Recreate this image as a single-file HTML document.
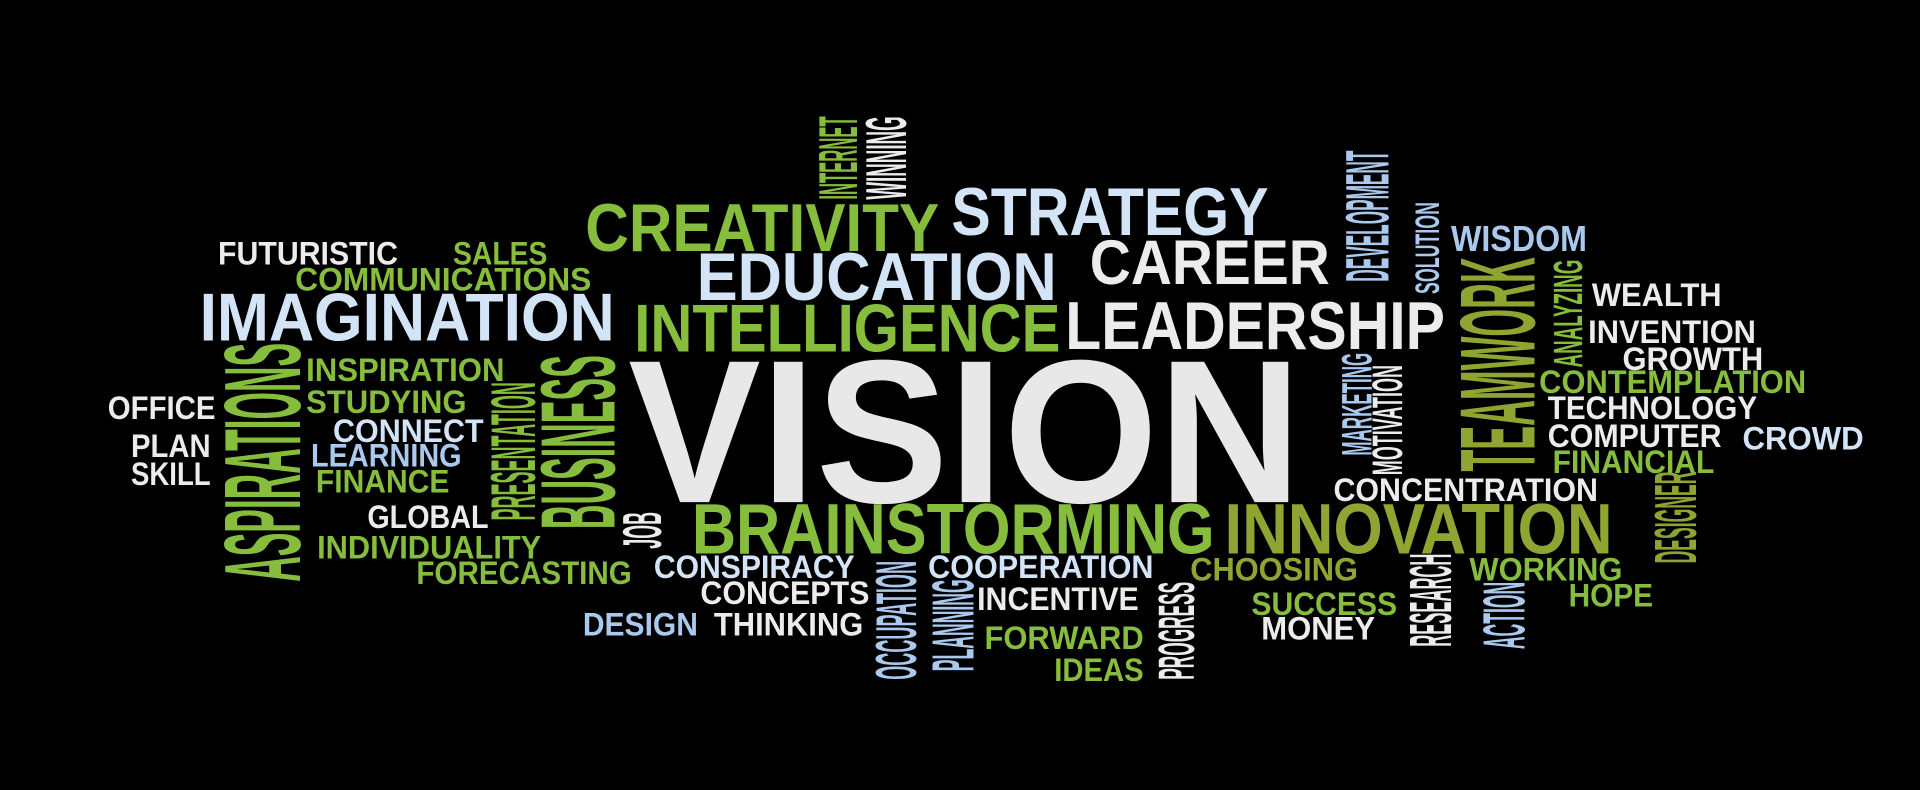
<!DOCTYPE html>
<html><head><meta charset="utf-8"><style>
html,body{margin:0;padding:0;background:#000;width:1920px;height:790px;overflow:hidden}
svg{display:block}
text{font-family:"Liberation Sans Narrow","Liberation Sans",sans-serif;font-weight:bold}
</style></head><body>
<svg id="cloud" width="1920" height="790" viewBox="0 0 1568 645" preserveAspectRatio="none"></svg>
<script>
const W='#ececec',B='#d4e4f7',LB='#a9c9ee',G='#86bd3c',O='#8fa531';
// [text, x1, y1, x2, y2, color, vertical]
const words=[
['FUTURISTIC',178,197,325,216,W,0],['SALES',370,197,447,216,G,0],['COMMUNICATIONS',241,218,483,237,G,0],
['IMAGINATION',163,238,502,278,B,0],['CREATIVITY',478,165,767,205,G,0],['STRATEGY',777,152,1036,192,B,0],
['EDUCATION',569,205,863,245,B,0],['CAREER',890,195,1086,232,W,0],['WISDOM',1185,184,1296,205,LB,0],
['INTELLIGENCE',518,247,866,287,G,0],['LEADERSHIP',870,245,1180,285,W,0],['WEALTH',1300,231,1406,250,W,0],
['INVENTION',1297,261,1434,280,W,0],['GROWTH',1325,283,1440,302,W,0],['CONTEMPLATION',1257,302,1475,321,G,0],
['TECHNOLOGY',1264,323,1435,342,W,0],['COMPUTER',1264,346,1406,365,W,0],['CROWD',1423,348,1522,367,B,0],
['FINANCIAL',1268,367,1400,386,G,0],['INSPIRATION',250,292,412,311,G,0],['STUDYING',250,318,381,337,G,0],
['OFFICE',88,323,176,342,W,0],['CONNECT',272,342,395,361,B,0],['PLAN',107,354,172,373,W,0],
['LEARNING',254,362,377,381,LB,0],['SKILL',107,377,172,396,W,0],['FINANCE',258,383,367,402,G,0],
['GLOBAL',300,412,399,431,W,0],['INDIVIDUALITY',259,437,442,456,G,0],['FORECASTING',340,458,516,477,G,0],
['VISION',513,290,1063,410,'#e8e8e8',0],['CONCENTRATION',1089,390,1305,409,W,0],
['BRAINSTORMING',565,410,992,452,G,0],['INNOVATION',1000,410,1317,452,O,0],
['CONSPIRACY',534,453,698,472,B,0],['COOPERATION',758,453,942,472,B,0],['CHOOSING',972,455,1109,474,O,0],
['WORKING',1200,455,1325,474,G,0],['CONCEPTS',572,474,710,493,W,0],['INCENTIVE',798,479,930,498,W,0],
['SUCCESS',1022,483,1141,502,G,0],['HOPE',1281,476,1350,495,G,0],['DESIGN',476,500,570,519,LB,0],
['THINKING',583,500,705,519,W,0],['FORWARD',804,511,934,530,G,0],['MONEY',1030,503,1123,522,W,0],
['IDEAS',861,537,934,556,G,0],
['INTERNET',668,95,700,163,G,1],['WINNING',706,95,740,163,W,1],['DEVELOPMENT',1098,123,1134,230,LB,1],
['SOLUTION',1155,165,1175,240,LB,1],['TEAMWORK',1190,210,1253,385,O,1],['ANALYZING',1268,212,1292,300,G,1],
['ASPIRATIONS',181,280,245,475,G,1],['PRESENTATION',400,312,437,425,G,1],['BUSINESS',440,290,502,432,G,1],
['JOB',508,418,540,448,W,1],['MARKETING',1095,288,1120,372,LB,1],['MOTIVATION',1120,298,1145,388,W,1],
['DESIGNER',1350,385,1385,460,O,1],['OCCUPATION',714,458,748,555,LB,1],['PLANNING',760,473,795,548,LB,1],
['PROGRESS',945,475,975,555,W,1],['RESEARCH',1150,452,1185,528,W,1],['ACTION',1210,475,1245,530,LB,1]
];
const svg=document.getElementById('cloud');
const NS='http://www.w3.org/2000/svg';
for(const [t,x1,y1,x2,y2,c,v] of words){
  const el=document.createElementNS(NS,'text');
  
  
  const len=v?(y2-y1):(x2-x1), h=v?(x2-x1):(y2-y1);
  el.setAttribute('font-size',(h/0.72).toFixed(1));
  el.setAttribute('textLength',len);
  el.setAttribute('lengthAdjust','spacingAndGlyphs');
  el.setAttribute('fill',c);
  if(v){el.setAttribute('transform',`translate(${x2},${y2}) rotate(-90)`);el.setAttribute('x',0);el.setAttribute('y',0);}
  else{el.setAttribute('x',x1);el.setAttribute('y',y2);}
  el.textContent=t;
  svg.appendChild(el);
}
</script>
</body></html>
